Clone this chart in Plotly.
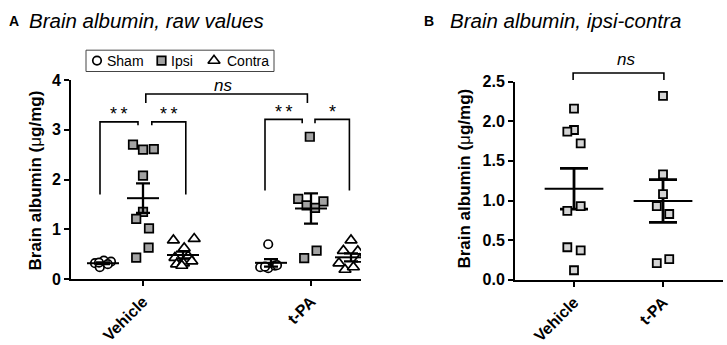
import numpy as np
import plotly.graph_objects as go

# ---------------- data ----------------
groups = ["Vehicle", "t-PA"]
series = ["Sham", "Ipsi", "Contra"]

veh_sham = [0.32, 0.37, 0.35, 0.24, 0.30, 0.33]
veh_ipsi = [2.70, 2.60, 2.61, 2.08, 1.35, 1.21, 1.02, 0.63, 0.43]
veh_contra = [0.78, 0.81, 0.62, 0.43, 0.46, 0.30, 0.32, 0.36, 0.27]
tpa_sham = [0.70, 0.24, 0.22, 0.27, 0.25, 0.28]
tpa_ipsi = [2.86, 1.61, 1.56, 1.48, 1.43, 0.57, 0.42]
tpa_contra = [0.78, 0.57, 0.56, 0.32, 0.40, 0.19, 0.24]

diff_vehicle = [2.16, 1.89, 1.87, 1.72, 0.93, 0.87, 0.41, 0.37, 0.12]
diff_tpa = [2.32, 1.33, 1.08, 0.93, 0.83, 0.21, 0.26]

yticks_a = [0, 1, 2, 3, 4]
yticks_b = [0.0, 0.5, 1.0, 1.5, 2.0, 2.5]

# ---------------- layout helpers (positions only) ----------------
W, H = 727, 345
def fx(px):
    return px / W
def fy(py):
    return 1 - py / H

FONT = "Liberation Sans, Arial, Helvetica, sans-serif"
BLACK = "black"

# scatter jitter (horizontal spread of points, layout only)
jit_veh_sham = [-0.2, 0.02, 0.2, -0.08, 0.12, -0.1]
jit_veh_ipsi = [-0.25, 0.0, 0.27, 0.0, 0.0, -0.17, 0.15, 0.14, -0.17]
jit_veh_contra = [-0.24, 0.28, 0.03, -0.2, 0.13, -0.16, 0.01, 0.22, -0.03]
jit_tpa_sham = [-0.07, -0.27, -0.07, 0.1, -0.15, 0.15]
jit_tpa_ipsi = [-0.03, -0.32, 0.31, -0.11, 0.1, 0.14, -0.17]
jit_tpa_contra = [0.0, -0.19, 0.17, -0.3, 0.22, -0.15, 0.06]
jit_b_veh = [0, 0, -0.075, 0.075, 0.075, -0.075, -0.075, 0.075, 0]
jit_b_tpa = [0, 0, 0, -0.07, 0.07, -0.07, 0.07]

centers_a = [0.0, 4.2]
offs = {"Sham": -1.0, "Ipsi": 0.0, "Contra": 1.0}
centers_b = [0.0, 1.0]

marker_styles = {
    "Sham": dict(symbol="circle", size=8.5, color="white", line=dict(color=BLACK, width=1.7)),
    "Ipsi": dict(symbol="square", size=8.5, color="#a3a3a3", line=dict(color=BLACK, width=1.7)),
    "Contra": dict(symbol="triangle-up", size=10.5, color="white", line=dict(color=BLACK, width=1.7)),
}

fig = go.Figure()

def mean_sem(v):
    a = np.asarray(v, dtype=float)
    return a.mean(), a.std(ddof=1) / np.sqrt(len(a))

# ---------------- Panel A ----------------
panel_a = [
    (0, "Sham", veh_sham, jit_veh_sham),
    (0, "Ipsi", veh_ipsi, jit_veh_ipsi),
    (0, "Contra", veh_contra, jit_veh_contra),
    (1, "Sham", tpa_sham, jit_tpa_sham),
    (1, "Ipsi", tpa_ipsi, jit_tpa_ipsi),
    (1, "Contra", tpa_contra, jit_tpa_contra),
]
for gi, s, vals, jit in panel_a:
    c = centers_a[gi] + offs[s]
    fig.add_trace(go.Scatter(
        x=[c + j for j in jit], y=vals, mode="markers",
        marker=marker_styles[s], showlegend=False, hoverinfo="skip",
        xaxis="x", yaxis="y"))
for gi, s, vals, jit in panel_a:
    c = centers_a[gi] + offs[s]
    m, se = mean_sem(vals)
    fig.add_trace(go.Scatter(
        x=[c - 0.4, c + 0.4], y=[m, m], mode="lines",
        line=dict(color=BLACK, width=2), showlegend=False, hoverinfo="skip",
        xaxis="x", yaxis="y"))
    fig.add_trace(go.Scatter(
        x=[c], y=[m], mode="markers", marker=dict(size=1, color="rgba(0,0,0,0)"),
        error_y=dict(type="data", array=[se], width=7, thickness=2.3, color=BLACK),
        showlegend=False, hoverinfo="skip", xaxis="x", yaxis="y"))

# significance brackets panel A
cv, ct = centers_a
brackets_a = [
    ([cv - 1.075, cv - 1.075, cv - 0.125, cv - 0.125], [1.70, 3.16, 3.16, 3.09]),
    ([cv + 0.22, cv + 0.22, cv + 1.07, cv + 1.07], [3.09, 3.16, 3.16, 1.70]),
    ([ct - 1.15, ct - 1.15, ct - 0.22, ct - 0.22], [1.78, 3.21, 3.21, 3.13]),
    ([ct + 0.1, ct + 0.1, ct + 0.96, ct + 0.96], [3.13, 3.21, 3.21, 1.78]),
    ([cv + 0.07, cv + 0.07, ct - 0.09, ct - 0.09], [3.54, 3.72, 3.72, 3.54]),
]
for bx, by in brackets_a:
    fig.add_trace(go.Scatter(x=bx, y=by, mode="lines", line=dict(color=BLACK, width=1.6),
                             showlegend=False, hoverinfo="skip", xaxis="x", yaxis="y"))

ann = []
star_font = dict(family=FONT, size=18, color=BLACK)
for txt, x, y in [("*\u2009*", cv - 0.6, 3.31), ("*\u2009*", cv + 0.645, 3.31),
                  ("*\u2009*", ct - 0.685, 3.35), ("*", ct + 0.53, 3.35)]:
    ann.append(dict(text=txt, x=x, y=y, xref="x", yref="y", showarrow=False,
                    xanchor="center", yanchor="middle", font=star_font))
ann.append(dict(text="ns", x=(cv + ct) / 2 - 0.1, y=3.89, xref="x", yref="y", showarrow=False,
                xanchor="center", yanchor="middle",
                font=dict(family=FONT, size=17, color=BLACK, style="italic")))

# ---------------- Panel B ----------------
for gi, vals, jit in [(0, diff_vehicle, jit_b_veh), (1, diff_tpa, jit_b_tpa)]:
    c = centers_b[gi]
    m, se = mean_sem(vals)
    fig.add_trace(go.Scatter(
        x=[c - 0.33, c + 0.33], y=[m, m], mode="lines",
        line=dict(color=BLACK, width=2), showlegend=False, hoverinfo="skip",
        xaxis="x2", yaxis="y2"))
    fig.add_trace(go.Scatter(
        x=[c], y=[m], mode="markers", marker=dict(size=1, color="rgba(0,0,0,0)"),
        error_y=dict(type="data", array=[se], width=14, thickness=2.8, color=BLACK),
        showlegend=False, hoverinfo="skip", xaxis="x2", yaxis="y2"))
    fig.add_trace(go.Scatter(
        x=[c + j for j in jit], y=vals, mode="markers",
        marker=dict(symbol="square", size=8, color="#d4d4d4", line=dict(color=BLACK, width=1.8)),
        showlegend=False, hoverinfo="skip", xaxis="x2", yaxis="y2"))

# bracket panel B on an extended (hidden) y axis with the same scale as y2
b_bot, b_top = fy(286.7), fy(77.7)
y4_top = 1.0
y4_max = 2.5 * (y4_top - b_bot) / (b_top - b_bot)
fig.add_trace(go.Scatter(x=[centers_b[0] - 0.01, centers_b[0] - 0.01, centers_b[1] + 0.01, centers_b[1] + 0.01],
                         y=[2.52, 2.61, 2.61, 2.52], mode="lines",
                         line=dict(color=BLACK, width=1.6), showlegend=False, hoverinfo="skip",
                         xaxis="x2", yaxis="y4"))
ann.append(dict(text="ns", x=0.58, y=2.78, xref="x2", yref="y4", showarrow=False,
                xanchor="center", yanchor="middle",
                font=dict(family=FONT, size=17, color=BLACK, style="italic")))

# ---------------- custom legend (pixel overlay axis) ----------------
leg_pos = {"Sham": (97, 105), "Ipsi": (161.5, 169), "Contra": (214, 225)}
for s in series:
    mx, tx = leg_pos[s]
    st = dict(marker_styles[s])
    fig.add_trace(go.Scatter(x=[mx], y=[55.5], mode="markers", marker=st, showlegend=False,
                             hoverinfo="skip", xaxis="x3", yaxis="y3"))
    ann.append(dict(text=s, x=tx, y=55.5, xref="x3", yref="y3", showarrow=False,
                    xanchor="left", yanchor="middle", font=dict(family=FONT, size=14, color=BLACK)))
shapes = [dict(type="rect", xref="x3", yref="y3", x0=86, x1=274, y0=44.5, y1=67,
               line=dict(color="#444", width=1), fillcolor="rgba(0,0,0,0)")]

# ---------------- titles / axis titles ----------------
ann += [
    dict(text="<b>A</b>", x=7, y=14, xref="x3", yref="y3", showarrow=False, xanchor="left",
         yanchor="middle", font=dict(family=FONT, size=14, color=BLACK)),
    dict(text="Brain albumin, raw values", x=27, y=13, xref="x3", yref="y3", showarrow=False,
         xanchor="left", yanchor="middle", font=dict(family=FONT, size=20.5, color=BLACK, style="italic")),
    dict(text="<b>B</b>", x=422, y=14, xref="x3", yref="y3", showarrow=False, xanchor="left",
         yanchor="middle", font=dict(family=FONT, size=14, color=BLACK)),
    dict(text="Brain albumin, ipsi-contra", x=448, y=13, xref="x3", yref="y3", showarrow=False,
         xanchor="left", yanchor="middle", font=dict(family=FONT, size=20.5, color=BLACK, style="italic")),
    dict(text="<b>Brain albumin (</b>μ<b>g/mg)</b>", x=35, y=182, xref="x3", yref="y3", showarrow=False,
         textangle=-90, xanchor="center", yanchor="middle", font=dict(family=FONT, size=17, color=BLACK)),
    dict(text="<b>Brain albumin (</b>μ<b>g/mg)</b>", x=465, y=180, xref="x3", yref="y3", showarrow=False,
         textangle=-90, xanchor="center", yanchor="middle", font=dict(family=FONT, size=17, color=BLACK)),
]

axis_common = dict(showgrid=False, zeroline=False, showline=True, linecolor=BLACK, linewidth=2,
                   ticks="outside", ticklen=5, tickwidth=2, tickcolor=BLACK)
tickfont_y = dict(family=FONT, size=16, color=BLACK, weight="bold")
tickfont_x = dict(family=FONT, size=16, color=BLACK, weight="bold")

fig.update_layout(
    width=W, height=H, margin=dict(l=0, r=0, t=0, b=0),
    paper_bgcolor="white", plot_bgcolor="rgba(0,0,0,0)",
    font=dict(family=FONT, color=BLACK),
    xaxis=dict(domain=[fx(71), fx(361)], range=[-1.8, 5.45], anchor="y",
               tickvals=centers_a, ticktext=groups, tickangle=-45, tickfont=tickfont_x, **axis_common),
    yaxis=dict(domain=[fy(286), fy(76)], range=[0, 4], anchor="x",
               tickvals=yticks_a, ticktext=[str(t) for t in yticks_a], tickfont=tickfont_y, **axis_common),
    xaxis2=dict(domain=[fx(515), fx(723)], range=[-0.663, 1.674], anchor="y2",
                tickvals=centers_b, ticktext=groups, tickangle=-45, tickfont=tickfont_x, **axis_common),
    yaxis2=dict(domain=[b_bot, b_top], range=[0, 2.5], anchor="x2",
                tickvals=yticks_b, ticktext=[f"{t:.1f}" for t in yticks_b], tickfont=tickfont_y, **axis_common),
    yaxis4=dict(domain=[b_bot, y4_top], range=[0, y4_max], anchor="x2", visible=False),
    xaxis3=dict(domain=[0, 1], range=[0, W], anchor="y3", visible=False),
    yaxis3=dict(domain=[0, 1], range=[H, 0], anchor="x3", visible=False),
    annotations=ann, shapes=shapes,
)

fig.write_html("out.html", config={"displayModeBar": False, "staticPlot": True},
               post_script="document.body.style.margin='0';document.body.style.overflow='hidden';")
